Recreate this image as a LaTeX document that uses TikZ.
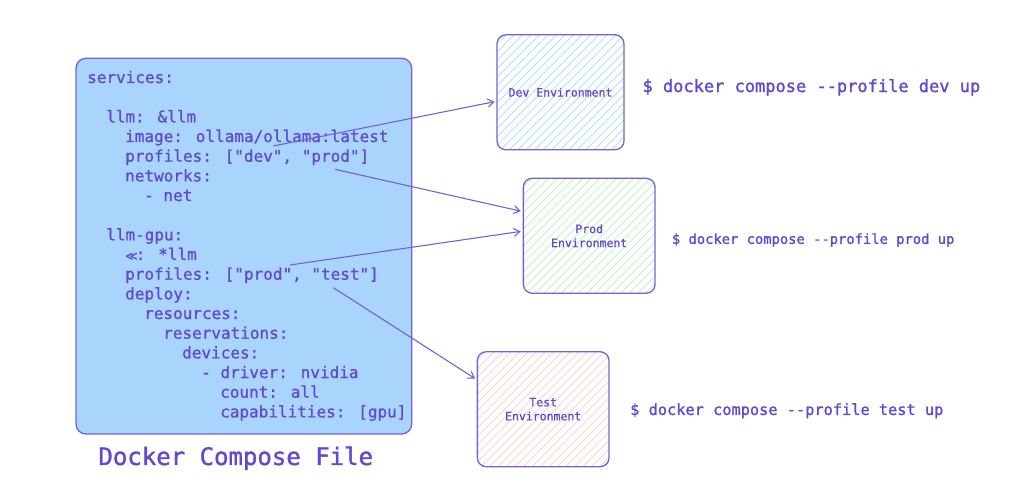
\documentclass[tikz,border=0pt]{standalone}
\usepackage{fontspec}
\newfontfamily\codefont[FakeBold=0.8]{DejaVu Sans Mono}
\newfontfamily\cmdfont[FakeBold=1.4]{DejaVu Sans Mono}
\newfontfamily\symfont[FakeBold=0.8]{DejaVu Sans}
\usetikzlibrary{arrows.meta,patterns.meta}
\definecolor{txt}{HTML}{6248D0}
\definecolor{strk}{HTML}{7461DA}
\definecolor{bluefill}{HTML}{A9D4FB}
\definecolor{devhatch}{HTML}{A5D8FF}
\definecolor{prodhatch}{HTML}{B2F2BB}
\definecolor{testhatch}{HTML}{FFC9C9}
\tikzset{
  code/.style={anchor=base west, inner sep=0pt, text=txt, font=\codefont\fontsize{16}{19.67}\selectfont},
  envbox/.style={draw=strk, line width=1.3pt, rounded corners=9pt, text=txt, align=center,
     font=\codefont\fontsize{11.5}{14}\selectfont, minimum height=115pt, inner sep=0pt},
  cmd/.style={anchor=west, inner sep=0pt, text=txt},
  arr/.style={draw=strk, line width=1.1pt, -{Straight Barb[length=6pt,width=8pt]}, shorten >=2pt},
}
\begin{document}
\begin{tikzpicture}[x=1pt,y=1pt]
\useasboundingbox (0,0) rectangle (1024,498);
% main compose box
\node[draw=strk, fill=bluefill, line width=1.3pt, rounded corners=10pt,
      minimum width=335.7pt, minimum height=375.7pt, inner sep=0pt] (compose) at (243.85,251.85) {};
% code lines
\node[code] (l0)  at (87,  {498-83})    {services:};
\node[code] (l2)  at (106, {498-122.3}) {llm: \&llm};
\node[code] (l3)  at (125, {498-142})   {image: ollama/ollama:latest};
\node[code] (l4)  at (125, {498-161.7}) {profiles: ["dev", "prod"]};
\node[code] (l5)  at (125, {498-181.4}) {networks:};
\node[code] (l6)  at (144, {498-201})   {- net};
\node[code] (l8)  at (106, {498-240.4}) {llm-gpu:};
\node[code] (l9)  at (125, {498-260})   {\makebox[10.6pt][l]{\symfont\fontsize{12}{14}\selectfont≪}: *llm};
\node[code] (l10) at (125, {498-279.7}) {profiles: ["prod", "test"]};
\node[code] (l11) at (125, {498-299.4}) {deploy:};
\node[code] (l12) at (144, {498-319})   {resources:};
\node[code] (l13) at (163, {498-338.7}) {reservations:};
\node[code] (l14) at (182, {498-358.4}) {devices:};
\node[code] (l15) at (201, {498-378})   {- driver: nvidia};
\node[code] (l16) at (220, {498-397.7}) {count: all};
\node[code] (l17) at (220, {498-417.4}) {capabilities: [gpu]};
% title
\node[cmd, font=\cmdfont\fontsize{24}{28}\selectfont] (title) at (98.3,39.7) {Docker Compose File};
% environment boxes
\node[envbox, minimum width=127pt, pattern={Lines[angle=45,distance=6pt,line width=0.7pt]}, pattern color=devhatch] (dev) at (560.5,405.7) {Dev Environment};
\node[envbox, minimum width=131.7pt, pattern={Lines[angle=45,distance=6pt,line width=0.7pt]}, pattern color=prodhatch] (prod) at (589.2,262.2) {Prod\\Environment};
\node[envbox, minimum width=131.7pt, pattern={Lines[angle=45,distance=6pt,line width=0.7pt]}, pattern color=testhatch] (test) at (543.2,88.8) {Test\\Environment};
% commands
\node[cmd, font=\cmdfont\fontsize{17}{20}\selectfont] (cdev) at (642.3,410.7) {\$ docker compose --profile dev up};
\node[cmd, font=\cmdfont\fontsize{13.8}{16}\selectfont] (cprod) at (671.7,258) {\$ docker compose --profile prod up};
\node[cmd, font=\cmdfont\fontsize{15.3}{18}\selectfont] (ctest) at (630,87.3) {\$ docker compose --profile test up};
% arrow starts
\coordinate (s1) at (273.3,352);
\coordinate (s2) at (335,328.7);
\coordinate (s3) at (290,233);
\coordinate (s4) at (333.3,210.3);
\draw[arr] (s1) -- (dev.188.2);
\draw[arr] (s2) -- (prod.160.1);
\draw[arr] (s3) -- (prod.176.7);
\draw[arr] (s4) -- (test.156.2);
\end{tikzpicture}
\end{document}
